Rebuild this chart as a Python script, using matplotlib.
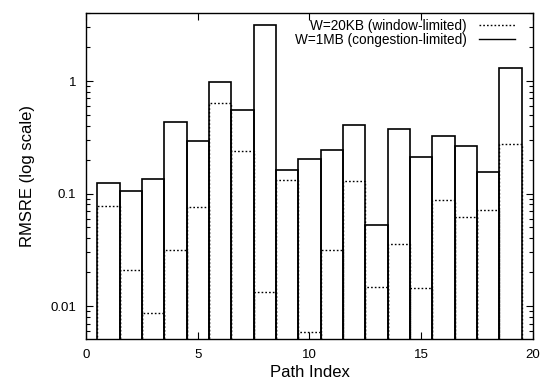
import numpy as np
import matplotlib
matplotlib.use('Agg')
import matplotlib.pyplot as plt
from matplotlib.lines import Line2D
from matplotlib.ticker import LogLocator, FixedLocator, NullFormatter

plt.rcParams['font.family'] = ['Liberation Sans', 'DejaVu Sans']

# Dados
caminhos = np.arange(1, 20)
rmsre_1mb = [0.125, 0.106, 0.135, 0.434, 0.294, 0.97, 0.55, 3.13, 0.162, 0.203,
             0.244, 0.41, 0.0527, 0.376, 0.21, 0.326, 0.262, 0.156, 1.31]
rmsre_20kb = [0.078, 0.021, 0.0086, 0.0318, 0.0766, 0.635, 0.238, 0.0133, 0.133, 0.00587,
              0.0316, 0.128, 0.0147, 0.0357, 0.0145, 0.0885, 0.0625, 0.0716, 0.273]

fig = plt.figure(figsize=(5.46, 3.79), dpi=100)
ax = fig.add_axes([0.1575, 0.1055, 0.8185, 0.8602])

base = 1e-4
ax.bar(caminhos, np.array(rmsre_20kb) - base, bottom=base, width=1.0, fill=False,
       edgecolor='black', linestyle=(0, (1.2, 1.5)), linewidth=1.0)
ax.bar(caminhos, np.array(rmsre_1mb) - base, bottom=base, width=1.0, fill=False,
       edgecolor='black', linewidth=1.2)

ax.set_yscale('log')
ax.set_ylim(0.0051, 4.02)
ax.set_xlim(0, 20)
ax.set_xticks([0, 5, 10, 15, 20])
ax.yaxis.set_major_locator(FixedLocator([0.01, 0.1, 1]))
ax.set_yticklabels(['0.01', '0.1', '1'])
ax.yaxis.set_minor_locator(LogLocator(base=10, subs=np.arange(2, 10), numticks=20))
ax.yaxis.set_minor_formatter(NullFormatter())
ax.tick_params(which='both', direction='in', top=True, right=True, labelsize=9.5, width=0.8)
ax.tick_params(which='major', length=5, pad=7)
ax.tick_params(which='minor', length=3)
for s in ax.spines.values():
    s.set_linewidth(1.0)

ax.set_xlabel('Path Index', fontsize=12, labelpad=3)
ax.set_ylabel('RMSRE (log scale)', fontsize=12, labelpad=11)

handles = [Line2D([], [], color='black', linestyle=(0, (1.2, 1.5)), linewidth=1.0),
           Line2D([], [], color='black', linewidth=1.0)]
ax.legend(handles, ['W=20KB (window-limited)', 'W=1MB (congestion-limited)'],
          loc='upper right', frameon=False, markerfirst=False, fontsize=9.8,
          handlelength=2.6, handletextpad=0.9, labelspacing=0.0,
          borderaxespad=0.0, borderpad=0.3, bbox_to_anchor=(0.968, 0.995))

fig.savefig('out.png', dpi=100)
